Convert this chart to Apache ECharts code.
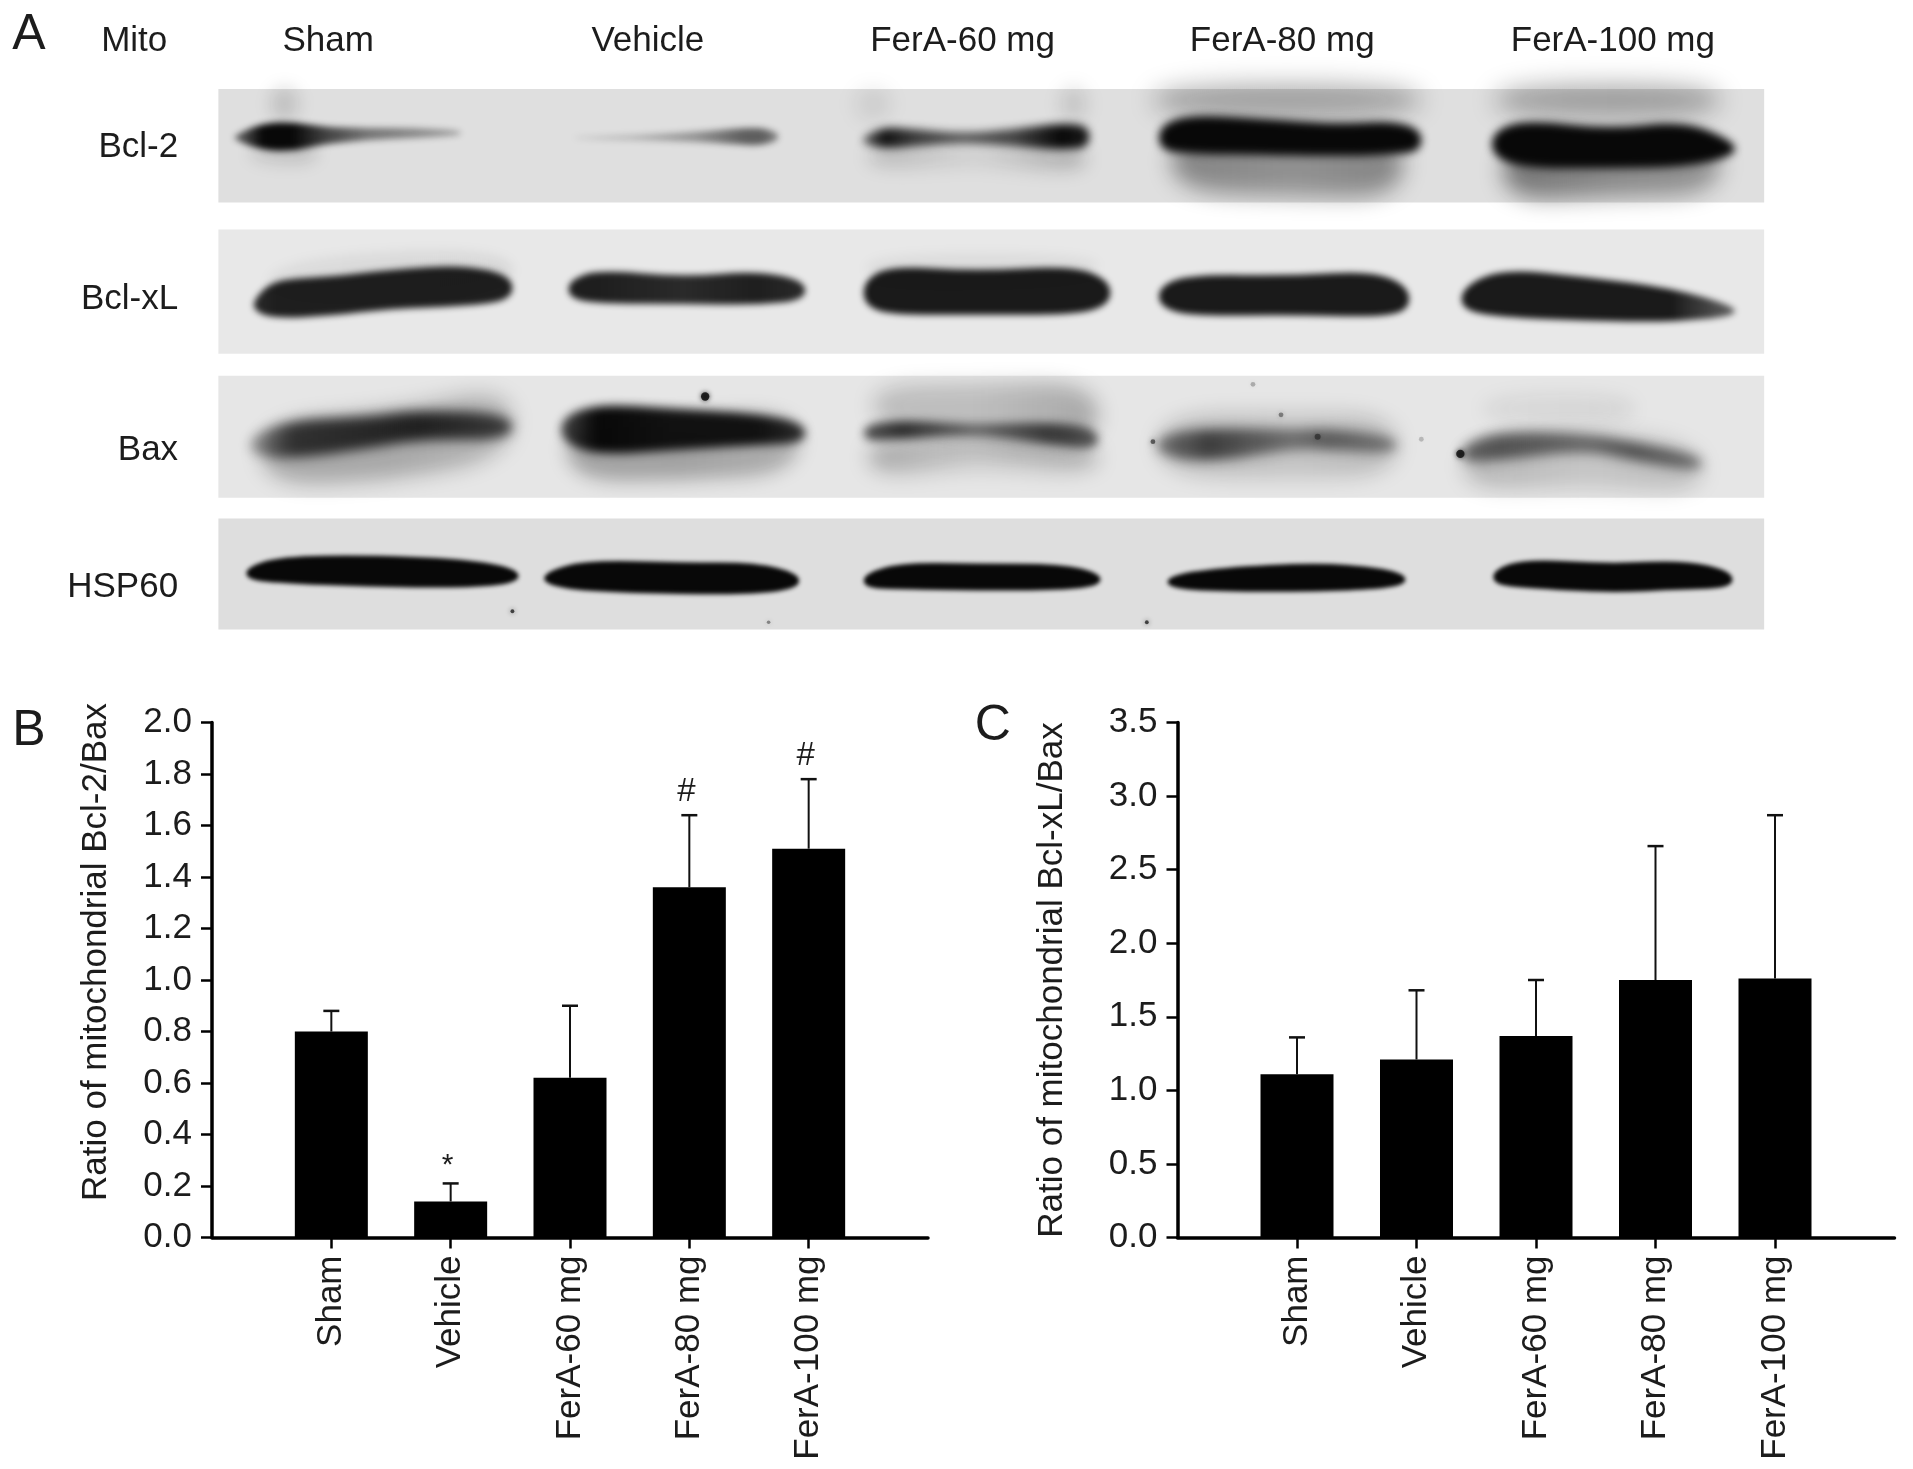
<!DOCTYPE html>
<html><head><meta charset="utf-8">
<style>html,body{margin:0;padding:0;background:#fff}#c{width:1913px;height:1469px}</style>
<script src="https://cdn.jsdelivr.net/npm/echarts@6/dist/echarts.min.js"></script>
</head><body><div id="c"></div>
<script>
const categories = ['Sham','Vehicle','FerA-60 mg','FerA-80 mg','FerA-100 mg'];
const bcl2Ratio = [0.80,0.14,0.62,1.36,1.51];
const bcl2Upper = [0.88,0.21,0.90,1.64,1.78];
const bcl2Marks = ['','*','','#','#'];
const bclxlRatio = [1.11,1.21,1.37,1.75,1.76];
const bclxlUpper = [1.36,1.68,1.75,2.66,2.87];
const bclxlMarks = ['','','','',''];
const ticksB = [0,2,0.2], ticksC = [0,3.5,0.5];
const nameB = 'Ratio of mitochondrial Bcl-2/Bax', nameC = 'Ratio of mitochondrial Bcl-xL/Bax';
const rowLabels = ['Bcl-2','Bcl-xL','Bax','HSP60'];
const cornerLabel = 'Mito';
const panelLetters = ['A','B','C'];

// Blot strips: [x0, x1, y0, y1, grey] in gel units
const strips = [[179,1446,73,166,223],[179,1446,188,290,232],[179,1446,308,408,230],[179,1446,425,516,222]];
// Bands: blur, then [x, centre, half thickness, darkness] along each band
const smears = [
 [12,[945,82,14,.3],[1165,82,14,.3]],[12,[1225,82,14,.3],[1410,82,14,.32]],
 [11,[960,132,24,.42],[1060,135,26,.36],[1150,135,26,.42]],[11,[1232,140,24,.5],[1320,137,24,.4],[1410,135,24,.36]],
 [8,[222,85,14,.14],[245,85,14,.12]],[8,[205,125,8,.12],[260,125,10,.15]],[9,[712,128,10,.2],[800,128,6,.08],[890,130,12,.25]],
 [9,[870,85,14,.12],[890,85,14,.12]],[9,[700,85,14,.06],[730,85,14,.08]],
 [10,[215,372,26,.28],[320,366,28,.28],[420,345,30,.22]],[9,[465,368,26,.3],[560,368,26,.3],[655,362,26,.25]],
 [10,[715,332,16,.18],[800,340,26,.18],[900,340,26,.28]],[10,[712,375,16,.28],[800,370,12,.15],[900,375,14,.25]],
 [10,[950,365,24,.22],[1060,365,28,.15],[1145,365,24,.2]],
 [10,[1200,382,20,.22],[1300,375,24,.14],[1395,385,20,.18]],[9,[1215,335,12,.06],[1340,335,12,.08]],
 [6,[220,232,20,.05],[420,222,20,.07]],[6,[710,220,12,.05],[900,218,10,.05]]
];
const bcl2Bands = [
 [3,[192,113,2,.5],[215,112,11,1],[240,112,12,1],[265,111,7,.75],[300,110,5,.5],[340,109,4,.4],[378,109,2,.3]],
 [3,[470,113,1,.1],[520,113,2,.2],[570,112,4,.35],[610,112,7,.6],[625,112,7,.6],[638,112,3,.4]],
 [4,[707,115,3,.5],[725,113,9,.95],[750,113,7,.75],[790,113,4,.6],[830,113,7,.7],[870,112,11,1],[893,112,9,.9]],
 [4,[950,113,10,1],[975,110,16,1],[1030,112,15,1],[1100,115,13,1],[1140,113,14,1],[1165,115,9,1]],
 [4,[1223,118,10,1],[1250,118,20,1],[1320,122,16,1],[1380,118,19,1],[1422,122,6,1]]
];
const bclxlBands = [
 [3,[208,250,5,.85],[225,245,16,.9],[270,243,16,.9],[320,237,16,.9],[380,234,17,.9],[420,236,10,.9]],
 [3,[466,237,7,.9],[490,235,14,.9],[560,238,11,.85],[620,236,14,.9],[660,238,8,.85]],
 [3,[708,240,10,.92],[730,238,20,.92],[800,240,18,.92],[880,238,20,.92],[910,240,10,.92]],
 [3,[950,243,8,.92],[975,242,17,.92],[1060,242,16,.92],[1125,241,19,.92],[1155,245,10,.92]],
 [3,[1198,245,9,.92],[1230,240,20,.92],[1300,245,18,.92],[1370,250,14,.92],[1422,255,4,.6]]
];
const baxBands = [
 [6,[205,365,8,.3],[240,360,16,.75],[300,355,13,.8],[345,348,12,.85],[420,350,11,.7]],
 [5,[460,352,10,.7],[490,352,21,1],[550,352,17,.95],[620,352,13,.95],[660,355,8,.8]],
 [5,[708,355,7,.65],[740,352,8,.8],[800,352,4,.45],[860,355,9,.7],[900,360,9,.6]],
 [6,[948,365,8,.4],[990,365,14,.7],[1060,360,8,.45],[1090,360,9,.55],[1145,365,7,.4]],
 [6,[1198,372,7,.55],[1230,365,12,.6],[1300,362,7,.5],[1340,370,8,.6],[1395,380,7,.45]]
];
const hspBands = [
 [2,[202,470,5,1],[230,467,11,1],[300,468,13,1],[380,470,12,1],[425,472,6,1]],
 [2,[446,474,5,1],[480,472,13,1],[560,474,13,1],[620,474,13,1],[655,476,6,1]],
 [2,[708,476,6,1],[740,472,11,1],[800,473,11,1],[870,473,11,1],[902,475,5,1]],
 [2,[957,477,5,1],[1000,475,10,1],[1080,473,12,1],[1130,474,9,1],[1152,475,4,1]],
 [2,[1224,473,6,1],[1250,470,12,1],[1320,474,12,1],[1380,471,12,1],[1420,475,7,1]]
];
// Specks: [x, y, radius, darkness]
const specks = [[578,325,3.5,.85],[945,362,2,.55],[1197,372,3.5,.8],[1050,340,2,.4],[1080,358,2.5,.45],[420,501,1.6,.7],[630,510,1.5,.4],[940,510,1.6,.7],[1027,315,2,.25],[1165,360,2,.2]];

// Layout of the text of panel A and the panel letters, in gel units
const laneTextX = [269,531,789,1051,1322], laneTextY = 33.5, cornerX = 110;
const rowTextX = 146, rowTextY = [121,245,369,481];
const letterPos = [[10,29],[10,599],[799,595]];

const FONT = '"Liberation Sans", Arial, sans-serif', INK = '#1c1c1c';
const gridsY = {top:722.5, height:515};
const pad = a => [null, ...a, null];
const axisCats = [' ', ...categories, '  '];

function xAxisFor(idx){ return {
  type:'category', gridIndex:idx, data:axisCats, boundaryGap:false,
  axisLine:{lineStyle:{color:'#000',width:3.5}},
  axisTick:{alignWithLabel:true, length:11, interval:(i,v)=>v.trim()!=='', lineStyle:{color:'#000',width:2.5}},
  axisLabel:{interval:0, rotate:90, margin:18, fontFamily:FONT, fontSize:35, color:INK}
};}
function yAxisFor(idx,t,name,gap,pd){ return {
  type:'value', gridIndex:idx, min:t[0], max:t[1], interval:t[2], splitLine:{show:false},
  name, nameLocation:'middle', nameGap:gap, nameRotate:90,
  nameTextStyle:{fontFamily:FONT,fontSize:35,color:INK,padding:pd},
  axisLine:{show:true,lineStyle:{color:'#000',width:3.5}},
  axisTick:{show:true,length:11,lineStyle:{color:'#000',width:2.5}},
  axisLabel:{margin:20,fontFamily:FONT,fontSize:35,color:INK,formatter:v=>v.toFixed(1)}
};}
function barSeries(idx,vals){ return {type:'bar',xAxisIndex:idx,yAxisIndex:idx,data:pad(vals),barWidth:73,itemStyle:{color:'#000'},silent:true,z:3}; }
function errSeries(idx,vals,upper,marks){ return {
  type:'custom',xAxisIndex:idx,yAxisIndex:idx,silent:true,z:2,
  data:upper.map((u,i)=>[i+1,u]),
  renderItem:(p,api)=>{
    const i=p.dataIndex, top=api.coord([i+1,upper[i]]), base=api.coord([i+1,vals[i]]);
    const kids=[
      {type:'line',shape:{x1:top[0],y1:top[1],x2:base[0],y2:base[1]},style:{stroke:'#111',lineWidth:2}},
      {type:'line',shape:{x1:top[0]-8,y1:top[1],x2:top[0]+8,y2:top[1]},style:{stroke:'#111',lineWidth:2.5}}
    ];
    if(marks[i]) kids.push({type:'text',style:{text:marks[i],x:top[0]-3,y:top[1]-(marks[i]==='*'?3:7),
      align:'center',verticalAlign:'bottom',fontFamily:FONT,fontSize:marks[i]==='*'?30:33,fill:INK}});
    return {type:'group',children:kids};
  }
};}

const gel = {xAxisIndex:2,yAxisIndex:2,silent:true,clip:false,encode:{x:0,y:1}};
const stripSeries = Object.assign({type:'custom',z:1,data:strips.map(s=>[s[0],s[2]]),
  renderItem:(p,api)=>{ const s=strips[p.dataIndex], a=api.coord([s[0],s[2]]), b=api.coord([s[1],s[3]]);
    return {type:'rect',shape:{x:a[0],y:a[1],width:b[0]-a[0],height:b[1]-a[1]},style:{fill:`rgb(${s[4]},${s[4]},${s[4]})`}}; }},gel);
// Each band is painted, blurred, onto its own small canvas placed through the gel axes
function bandImage(up,dn,stops,x0px,x1px,blur){
  const all=up.concat(dn), m=Math.ceil(blur*3)+2;
  const L=Math.floor(Math.min(...all.map(q=>q[0])))-m, T=Math.floor(Math.min(...all.map(q=>q[1])))-m;
  const R=Math.ceil(Math.max(...all.map(q=>q[0])))+m, B=Math.ceil(Math.max(...all.map(q=>q[1])))+m;
  const cv=document.createElement('canvas'); cv.width=R-L; cv.height=B-T;
  const ctx=cv.getContext('2d');
  ctx.filter=`blur(${blur}px)`;
  const g=ctx.createLinearGradient(x0px-L,0,x1px-L,0);
  stops.forEach(s=>g.addColorStop(s[0],s[1]));
  ctx.fillStyle=g;
  ctx.beginPath();
  const n=all.length, mid=(a,b)=>[(a[0]+b[0])/2-L,(a[1]+b[1])/2-T];
  let s=mid(all[n-1],all[0]); ctx.moveTo(s[0],s[1]);
  for(let i=0;i<n;i++){ const q=all[i], e=mid(q,all[(i+1)%n]); ctx.quadraticCurveTo(q[0]-L,q[1]-T,e[0],e[1]); }
  ctx.closePath(); ctx.fill();
  return {cv,L,T};
}
function bandSeries(list,z){ return Object.assign({type:'custom',z,data:list.map(b=>[b[1][0],b[1][1]]),
  renderItem:(p,api)=>{
    const b=list[p.dataIndex], blur=b[0], pts=b.slice(1);
    const up=pts.map(q=>api.coord([q[0],q[1]-q[2]])), dn=pts.map(q=>api.coord([q[0],q[1]+q[2]])).reverse();
    const x0=pts[0][0], w=pts[pts.length-1][0]-x0;
    const stops=pts.map(q=>[(q[0]-x0)/w,`rgba(8,8,8,${q[3]})`]);
    const im=bandImage(up,dn,stops,up[0][0],up[up.length-1][0],blur);
    return {type:'image',style:{image:im.cv,x:im.L,y:im.T,width:im.cv.width,height:im.cv.height}};
  }},gel); }
const speckSeries = Object.assign({type:'custom',z:6,data:specks.map(s=>[s[0],s[1]]),
  renderItem:(p,api)=>{ const s=specks[p.dataIndex], c=api.coord([s[0],s[1]]);
    return {type:'circle',shape:{cx:c[0],cy:c[1],r:s[2]*1.2},style:{fill:`rgba(8,8,8,${s[3]})`,shadowBlur:5,shadowColor:`rgba(8,8,8,${s[3]})`}}; }},gel);
const texts = [
  ...categories.map((t,i)=>({t,x:laneTextX[i],y:laneTextY,a:'center',s:35})),
  {t:cornerLabel,x:cornerX,y:laneTextY,a:'center',s:35},
  ...rowLabels.map((t,i)=>({t,x:rowTextX,y:rowTextY[i],a:'right',s:35})),
  ...panelLetters.map((t,i)=>({t,x:letterPos[i][0],y:letterPos[i][1],a:'left',s:50}))
];
const textSeries = Object.assign({type:'custom',z:7,data:texts.map(t=>[t.x,t.y]),
  renderItem:(p,api)=>{ const t=texts[p.dataIndex], c=api.coord([t.x,t.y]);
    return {type:'text',style:{text:t.t,x:c[0],y:c[1],align:t.a,verticalAlign:'middle',fontFamily:FONT,fontSize:t.s,fill:INK}}; }},gel);

const chart = echarts.init(document.getElementById('c'),null,{width:1913,height:1469});
chart.setOption({
  animation:false, backgroundColor:'#fff',
  grid:[
    {left:212,width:716,...gridsY},
    {left:1177.5,width:717,...gridsY},
    {left:0,top:0,width:1913,height:1469}
  ],
  xAxis:[xAxisFor(0),xAxisFor(1),{type:'value',gridIndex:2,min:0,max:1568,show:false}],
  yAxis:[yAxisFor(0,ticksB,nameB,98,[0,0,0,56]),yAxisFor(1,ticksC,nameC,108,[0,0,0,0]),
         {type:'value',gridIndex:2,min:0,max:1204,inverse:true,show:false}],
  series:[
    barSeries(0,bcl2Ratio),errSeries(0,bcl2Ratio,bcl2Upper,bcl2Marks),
    barSeries(1,bclxlRatio),errSeries(1,bclxlRatio,bclxlUpper,bclxlMarks),
    stripSeries,bandSeries(smears,2),bandSeries(bcl2Bands,3),bandSeries(bclxlBands,3),bandSeries(baxBands,3),bandSeries(hspBands,3),
    speckSeries,textSeries
  ]
});
</script></body></html>
